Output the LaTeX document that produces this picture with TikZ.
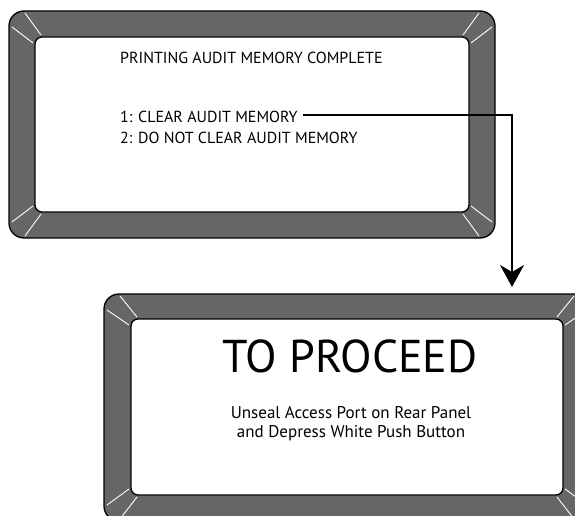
\documentclass[tikz,border=0pt]{standalone}
\usepackage{fontspec}
\setmainfont{PT Sans}
\usepackage{tikz}
\usetikzlibrary{arrows.meta}
\usetikzlibrary{positioning}
\definecolor{bezelgray}{RGB}{102,102,102}

\begin{document}
\begin{tikzpicture}[x=1pt, y=-1pt,
  bezel/.style={draw=black, line width=1.3pt, fill=bezelgray, rounded corners=15pt},
  screen/.style={draw=black, line width=1.3pt, fill=white, rounded corners=7pt},
  glint/.style={draw=white, line width=0.9pt},
  menu/.style={inner sep=0pt, font=\fontsize{16}{18}\selectfont},
  big/.style={inner sep=0pt, font=\fontsize{46}{50}\selectfont},
  note/.style={inner sep=0pt, font=\fontsize{17}{19}\selectfont},
  flow/.style={line width=2pt, -{Stealth[length=22pt, width=24pt, inset=7pt]}}]
\clip (0,0) rectangle (575,516);
\useasboundingbox (0,0) rectangle (575,516);

% upper display
\draw[bezel] (9,11) rectangle (495,238);
\draw[screen] (35,37) rectangle (469,212);
\foreach \ox/\oy/\ix/\iy/\sx/\sy in {9/11/35/37/1/1, 495/11/469/37/-1/1, 9/238/35/212/1/-1, 495/238/469/212/-1/-1} {
  \draw[glint] (\ix+6*\sx, \iy-2*\sy) -- (\ox+16*\sx, \oy+2*\sy);
  \draw[glint] (\ix-2*\sx, \iy+6*\sy) -- (\ox+3*\sx, \oy+16*\sy);
}

% lower display
\draw[bezel] (104,294) rectangle (590,521);
\draw[screen] (131,319) rectangle (563,495);
\foreach \ox/\oy/\ix/\iy/\sx/\sy in {104/294/131/319/1/1, 590/294/563/319/-1/1, 104/521/131/495/1/-1, 590/521/563/495/-1/-1} {
  \draw[glint] (\ix+6*\sx, \iy-2*\sy) -- (\ox+16*\sx, \oy+2*\sy);
  \draw[glint] (\ix-2*\sx, \iy+6*\sy) -- (\ox+3*\sx, \oy+16*\sy);
}

\node[menu, anchor=base west] (Complete) at (120,64) {PRINTING AUDIT MEMORY COMPLETE};
\node[menu, anchor=base west] (ClearMemory) at (120,123) {1: CLEAR AUDIT MEMORY};
\node[menu, anchor=base west] (KeepMemory) at (120,143) {2: DO NOT CLEAR AUDIT MEMORY};

\node[big, anchor=base] (Proceed) at (350,372) {TO PROCEED};
\node[note, anchor=base] (Unseal) at (351,418) {Unseal Access Port on Rear Panel};
\node[note, anchor=base] (Depress) at (351,437) {and Depress White Push Button};

\coordinate (ProceedTip) at (512,287);
\draw[flow] ([xshift=5pt, yshift=2pt]ClearMemory.east) -| (ProceedTip);
\end{tikzpicture}
\end{document}
